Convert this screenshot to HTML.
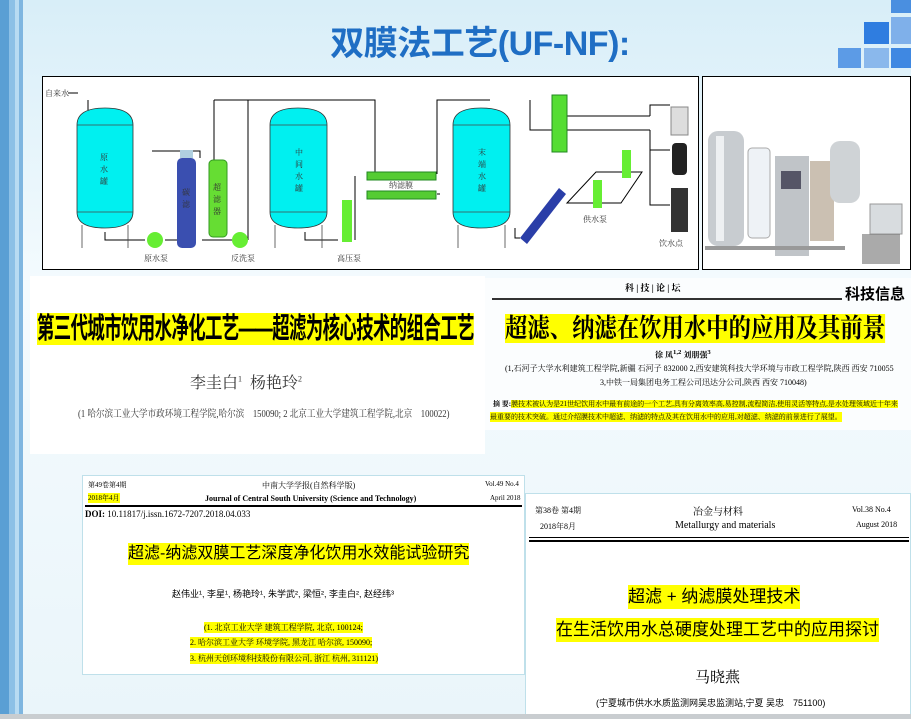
<!DOCTYPE html>
<html><head><meta charset="utf-8">
<style>
body{margin:0;width:911px;height:719px;overflow:hidden;position:relative;font-family:"Liberation Sans","Noto Sans CJK SC",sans-serif;background:linear-gradient(180deg,#d8eef8 0%,#f4fbfe 40%,#eaf5fa 100%);}
.abs{position:absolute}
.cn{font-family:"Liberation Serif","Noto Serif CJK SC",serif}
.hl{background:#ffff00}
</style></head><body>
<div class="abs" style="left:0;top:0;width:9px;height:719px;background:#5a9fd4"></div>
<div class="abs" style="left:9px;top:0;width:6px;height:719px;background:#8cc0e6"></div>
<div class="abs" style="left:15px;top:0;width:4px;height:719px;background:#b8dbf2"></div>
<div class="abs" style="left:19px;top:0;width:4px;height:719px;background:#7fb6e0"></div>
<div class="abs" style="left:891px;top:0;width:20px;height:13px;background:#4a8fe0"></div>
<div class="abs" style="left:864px;top:22px;width:25px;height:22px;background:#2f7de0"></div>
<div class="abs" style="left:891px;top:17px;width:20px;height:27px;background:#7fb0ea"></div>
<div class="abs" style="left:838px;top:48px;width:23px;height:20px;background:#5c9be6"></div>
<div class="abs" style="left:864px;top:48px;width:25px;height:20px;background:#8ab8ec"></div>
<div class="abs" style="left:891px;top:48px;width:20px;height:20px;background:#3f88e2"></div>
<div class="abs" style="left:285px;top:16px;width:390px;text-align:center;font-size:34px;font-weight:bold;color:#1f6ec4;letter-spacing:-0.5px">双膜法工艺(UF-NF):</div>

<svg class="abs" style="left:42px;top:76px" width="658" height="194" viewBox="42 76 658 194">
<rect x="42.5" y="76.5" width="656" height="193" fill="#fff" stroke="#000"/>
<g stroke="#000" fill="none" stroke-width="1">
<path d="M68 93 H78 M88 100 V110"/>
<path d="M105 232 V240 H145 M165 240 H178 M152 151 H200 V158"/>
<path d="M202 240 H218 M214 100 V160 M214 100 H375 V175 M248 100 V240 M217 240 H232"/>
<path d="M305 232 V240 H338 M355 240 V176 M437 174 V100 H490 M437 194 H440 M375 193 V196"/>
<path d="M530 100 V130 H552 M567 116 H650 M567 130 H650 M650 116 V105 H670 M650 130 V150 H670 M650 150 V205 H670"/>
<path d="M515 228 V238 H520"/>
<path d="M596 172 H642 L621 203 H567 Z"/>
</g>
<g fill="#00f0f0" stroke="#333" stroke-width="0.8">
<path d="M77 125 Q77 108 105 108 Q133 108 133 125 V212 Q133 228 105 228 Q77 228 77 212 Z"/>
<path d="M270 125 Q270 108 298 108 Q327 108 327 125 V212 Q327 228 298 228 Q270 228 270 212 Z"/>
<path d="M453 125 Q453 108 481 108 Q510 108 510 125 V212 Q510 228 481 228 Q453 228 453 212 Z"/>
</g>
<g stroke="#444" stroke-width="0.8"><path d="M77 125H133M77 212H133M270 125H327M270 212H327M453 125H510M453 212H510M82 225V248M128 225V248M275 225V248M322 225V248M458 225V248M505 225V248"/></g>
<rect x="177" y="158" width="19" height="90" rx="5" fill="#3a4fb0"/>
<rect x="180" y="150" width="13" height="8" fill="#b0d0e0"/>
<rect x="209" y="160" width="18" height="77" rx="4" fill="#66dd33" stroke="#339922"/>
<rect x="367" y="172" width="69" height="8" fill="#55cc33" stroke="#228822"/>
<rect x="367" y="191" width="69" height="8" fill="#55cc33" stroke="#228822"/>
<rect x="552" y="95" width="15" height="57" fill="#55dd33" stroke="#228822"/>
<path d="M520 238 L527 244 L566 194 L559 188 Z" fill="#2a3ea8"/>
<g fill="#66ee33"><circle cx="155" cy="240" r="8"/><circle cx="240" cy="240" r="8"/><rect x="342" y="200" width="10" height="42"/><rect x="593" y="180" width="9" height="28"/><rect x="622" y="150" width="9" height="28"/></g>
<rect x="671" y="107" width="17" height="28" fill="#ddd" stroke="#888"/>
<rect x="672" y="143" width="15" height="32" rx="4" fill="#222"/>
<rect x="671" y="188" width="17" height="44" fill="#333"/>
<g font-size="8" fill="#333" font-family="Liberation Serif,Noto Serif CJK SC,serif">
<text x="45" y="96">自来水</text><text x="100" y="160" >原</text><text x="100" y="172">水</text><text x="100" y="184">罐</text>
<text x="295" y="155">中</text><text x="295" y="167">间</text><text x="295" y="179">水</text><text x="295" y="191">罐</text>
<text x="478" y="155">末</text><text x="478" y="167">端</text><text x="478" y="179">水</text><text x="478" y="191">罐</text>
<text x="182" y="195">碳</text><text x="182" y="207">滤</text><text x="213" y="190">超</text><text x="213" y="202">滤</text><text x="213" y="214">器</text>
<text x="389" y="188">纳滤膜</text><text x="144" y="261">原水泵</text><text x="231" y="261">反洗泵</text><text x="337" y="261">高压泵</text><text x="583" y="222">供水泵</text><text x="659" y="246">饮水点</text>
</g>
</svg>
<svg class="abs" style="left:702px;top:76px" width="209" height="194">
<rect x="0.5" y="0.5" width="208" height="193" fill="#fff" stroke="#000"/>
<rect x="6" y="55" width="36" height="115" rx="10" fill="#c8ccd0"/><rect x="14" y="60" width="8" height="105" fill="#eef0f2"/>
<rect x="46" y="72" width="22" height="90" rx="4" fill="#eef2f6" stroke="#aaa"/>
<rect x="73" y="80" width="34" height="100" fill="#c0c4c8"/><rect x="79" y="95" width="20" height="18" fill="#556"/>
<rect x="108" y="85" width="24" height="80" fill="#a9967f" opacity=".6"/>
<rect x="128" y="65" width="30" height="62" rx="10" fill="#cfd3d6"/>
<rect x="168" y="128" width="32" height="30" fill="#d8dcdf" stroke="#999"/><rect x="160" y="158" width="38" height="30" fill="#555" opacity=".5"/>
<rect x="3" y="170" width="140" height="4" fill="#999"/>
</svg>

<div class="abs" style="left:30px;top:276px;width:455px;height:178px;background:#fff"></div>
<div class="abs" style="left:37px;top:310px;height:38px;font-size:29px;font-weight:bold;line-height:38px;white-space:nowrap;letter-spacing:-1px;transform:scaleX(0.6);transform-origin:left"><span class="hl">第三代城市饮用水净化工艺——超滤为核心技术的组合工艺</span></div>
<div class="abs cn" style="left:190px;top:370px;font-size:16px;color:#333">李圭白<sup style="font-size:8px">1</sup>&nbsp;&nbsp;杨艳玲<sup style="font-size:8px">2</sup></div>
<div class="abs cn" style="left:78px;top:405px;font-size:10px;color:#333;white-space:nowrap;transform:scaleX(0.86);transform-origin:left">(1 哈尔滨工业大学市政环境工程学院,哈尔滨　150090; 2 北京工业大学建筑工程学院,北京　100022)</div>

<div class="abs" style="left:485px;top:278px;width:426px;height:152px;background:#fbfdfe"></div>
<div class="abs cn" style="left:625px;top:281px;font-size:9px;font-weight:bold">科 | 技 | 论 | 坛</div>
<div class="abs" style="left:492px;top:298px;width:350px;height:2px;background:#333"></div>
<div class="abs" style="left:845px;top:283px;font-size:15px;font-weight:bold">科技信息</div>
<div class="abs cn" style="left:505px;top:312px;height:33px;font-size:26px;font-weight:bold;line-height:33px;white-space:nowrap;transform:scaleX(0.86);transform-origin:left"><span class="hl">超滤、纳滤在饮用水中的应用及其前景</span></div>
<div class="abs cn" style="left:655px;top:349px;font-size:8px;font-weight:bold">徐 凤<sup>1,2</sup> 刘朋强<sup>3</sup></div>
<div class="abs cn" style="left:505px;top:363px;font-size:8px;white-space:nowrap">(1,石河子大学水利建筑工程学院,新疆 石河子 832000 2,西安建筑科技大学环境与市政工程学院,陕西 西安 710055</div>
<div class="abs cn" style="left:600px;top:377px;font-size:8px;white-space:nowrap">3,中铁一局集团电务工程公司迅达分公司,陕西 西安 710048)</div>
<div class="abs cn" style="left:493px;top:399px;font-size:7px;white-space:nowrap;width:415px;overflow:hidden"><b>摘 要:</b><span class="hl">膜技术被认为是21世纪饮用水中最有前途的一个工艺,具有分离效率高,易控制,流程简洁,使用灵活等特点,是水处理领域近十年来</span></div>
<div class="abs cn hl" style="left:490px;top:412px;font-size:7px;white-space:nowrap">最重要的技术突破。通过介绍膜技术中超滤、纳滤的特点及其在饮用水中的应用,对超滤、纳滤的前景进行了展望。</div>

<div class="abs" style="left:82px;top:475px;width:443px;height:200px;background:#fff;border:1px solid #bfe0ea;box-sizing:border-box"></div>
<div class="abs cn" style="left:88px;top:480px;font-size:7px">第49卷第4期</div>
<div class="abs cn hl" style="left:88px;top:493px;font-size:7px">2018年4月</div>
<div class="abs cn" style="left:262px;top:480px;font-size:8px">中南大学学报(自然科学版)</div>
<div class="abs cn" style="left:205px;top:494px;font-size:8px;font-weight:bold">Journal of Central South University (Science and Technology)</div>
<div class="abs cn" style="left:485px;top:480px;font-size:7px">Vol.49 No.4</div>
<div class="abs cn" style="left:490px;top:494px;font-size:7px">April 2018</div>
<div class="abs" style="left:85px;top:505px;width:437px;height:1.5px;background:#000"></div>
<div class="abs cn" style="left:85px;top:509px;font-size:9px"><b>DOI:</b> 10.11817/j.issn.1672-7207.2018.04.033</div>
<div class="abs hl" style="left:128px;top:543px;font-size:16px;line-height:22px;white-space:nowrap">超滤-纳滤双膜工艺深度净化饮用水效能试验研究</div>
<div class="abs" style="left:172px;top:587px;font-size:9px;white-space:nowrap">赵伟业¹, 李星¹, 杨艳玲¹, 朱学武², 梁恒², 李圭白², 赵经纬³</div>
<div class="abs cn hl" style="left:204px;top:622px;font-size:8px">(1. 北京工业大学 建筑工程学院, 北京, 100124;</div>
<div class="abs cn hl" style="left:190px;top:637px;font-size:8px">2. 哈尔滨工业大学 环境学院, 黑龙江 哈尔滨, 150090;</div>
<div class="abs cn hl" style="left:190px;top:653px;font-size:8px">3. 杭州天创环境科技股份有限公司, 浙江 杭州, 311121)</div>

<div class="abs" style="left:525px;top:493px;width:386px;height:226px;background:#fff;border:1px solid #bfe0ea;box-sizing:border-box"></div>
<div class="abs cn" style="left:535px;top:505px;font-size:8px">第38卷 第4期</div>
<div class="abs cn" style="left:540px;top:521px;font-size:8px">2018年8月</div>
<div class="abs cn" style="left:693px;top:503px;font-size:10px">冶金与材料</div>
<div class="abs cn" style="left:675px;top:520px;font-size:10px">Metallurgy and materials</div>
<div class="abs cn" style="left:852px;top:505px;font-size:8px">Vol.38 No.4</div>
<div class="abs cn" style="left:856px;top:520px;font-size:8px">August 2018</div>
<div class="abs" style="left:529px;top:537px;width:380px;height:1px;background:#000"></div>
<div class="abs" style="left:529px;top:540px;width:380px;height:2px;background:#000"></div>
<div class="abs hl" style="left:628px;top:585px;font-size:17px;line-height:24px;white-space:nowrap">超滤 + 纳滤膜处理技术</div>
<div class="abs hl" style="left:556px;top:618px;font-size:17px;line-height:24px;white-space:nowrap">在生活饮用水总硬度处理工艺中的应用探讨</div>
<div class="abs cn" style="left:695px;top:666px;font-size:15px">马晓燕</div>
<div class="abs" style="left:596px;top:696px;font-size:9px;white-space:nowrap">(宁夏城市供水水质监测网吴忠监测站,宁夏 吴忠　751100)</div>
<div class="abs" style="left:0;top:714px;width:911px;height:5px;background:#c9cdd0"></div>
</body></html>
